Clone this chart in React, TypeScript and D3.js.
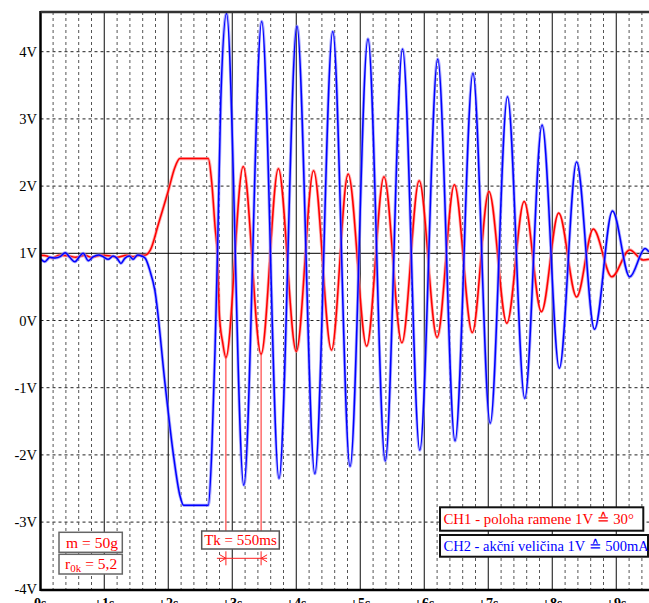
import React, { useEffect, useRef } from 'react';
import * as d3 from 'd3';

type Pt = [number, number]; // [time in s, volts]

const voltTicks = [4, 3, 2, 1, 0, -1, -2, -3, -4];
const voltLabels = ['4V', '3V', '2V', '1V', '0V', '-1V', '-2V', '-3V', '-4V'];
const secTicks = [0, 1, 2, 3, 4, 5, 6, 7, 8, 9];
const secLabels = ['0s', '+1s', '+2s', '+3s', '+4s', '+5s', '+6s', '+7s', '+8s', '+9s'];

// CH1 (red) - arm position: idle noise, step up, plateau, release
const redLead: Pt[] = [
  [0, 0.97], [0.1, 0.96], [0.18, 0.93], [0.3, 0.97], [0.45, 0.96], [0.55, 0.94],
  [0.7, 0.97], [0.8, 0.94], [0.95, 0.97], [1.1, 0.96], [1.2, 0.94], [1.35, 0.97],
  [1.45, 0.95], [1.55, 0.97], [1.63, 0.97], [1.72, 1.05], [1.85, 1.45], [2.0, 1.93],
  [2.1, 2.27], [2.18, 2.41], [2.625, 2.41], [2.68, 2.04], [2.73, 1.4],
  [2.77, 0.93], [2.8, 0.06], [2.85, -0.33]
];
const redTroughs: Pt[] = [
  [2.9, -0.55], [3.45, -0.5], [4.0, -0.46], [4.55, -0.44], [5.1, -0.38], [5.65, -0.33],
  [6.2, -0.25], [6.75, -0.18], [7.29, -0.04], [7.83, 0.13], [8.38, 0.35], [8.93, 0.65]
];
const redPeaks: Pt[] = [
  [3.17, 2.29], [3.72, 2.26], [4.27, 2.23], [4.81, 2.18], [5.37, 2.14], [5.92, 2.08],
  [6.47, 2.02], [7.01, 1.92], [7.56, 1.77], [8.1, 1.6], [8.64, 1.36], [9.21, 1.05]
];
const redTail: Pt[] = [[9.42, 0.9], [9.51, 0.91]];

// CH2 (blue) - control action
const blueLead: Pt[] = [
  [0, 0.92], [0.07, 0.875], [0.15, 0.94], [0.23, 0.93], [0.31, 0.95], [0.39, 1.01],
  [0.46, 0.94], [0.54, 0.875], [0.62, 0.96], [0.67, 1.0], [0.75, 0.89], [0.83, 0.95],
  [0.91, 0.975], [0.98, 0.95], [1.06, 0.91], [1.14, 0.96], [1.2, 0.925], [1.26, 0.85],
  [1.32, 0.925], [1.39, 0.96], [1.45, 0.91], [1.52, 0.975], [1.58, 0.96], [1.64, 0.925],
  [1.71, 0.75], [1.79, 0.45], [1.95, -0.95], [2.08, -2.0], [2.18, -2.6],
  [2.24, -2.75], [2.625, -2.75], [2.68, -1.93], [2.73, -0.44], [2.77, 1.05], [2.82, 3.28]
];
const bluePeaks: Pt[] = [
  [2.91, 4.57], [3.46, 4.45], [4.01, 4.38], [4.57, 4.3], [5.12, 4.19], [5.66, 4.04],
  [6.21, 3.89], [6.76, 3.68], [7.3, 3.33], [7.84, 2.91], [8.38, 2.36], [8.94, 1.63], [9.45, 1.07]
];
const blueTroughs: Pt[] = [
  [3.18, -2.45], [3.73, -2.35], [4.29, -2.28], [4.84, -2.17], [5.39, -2.09], [5.93, -1.93],
  [6.48, -1.79], [7.03, -1.53], [7.57, -1.16], [8.11, -0.71], [8.66, -0.13], [9.21, 0.65]
];
const blueTail: Pt[] = [[9.51, 1.02]];

// oscillation period markers (Tk = 550ms)
const tkMarks = [2.9, 3.45];

const W = 649;
const H = 603;
const FONT = "'Liberation Serif', 'Times New Roman', serif";

const App: React.FC = () => {
  const svgRef = useRef<SVGSVGElement>(null);

  useEffect(() => {
    if (!svgRef.current) return;
    const svg = d3.select(svgRef.current);
    svg.selectAll('*').remove();

    const x = d3.scaleLinear().domain([0, 9.5]).range([40.3, 648.3]);
    const y = d3.scaleLinear().domain([-4, 4]).range([589.3, 51.7]);
    const top = 12;
    const bottom = 590;
    const left = 40.5;

    svg.append('rect').attr('width', W).attr('height', H).attr('fill', '#fff');

    const grid = svg.append('g');
    // horizontal dashed grid
    grid.selectAll('.hgrid')
      .data(voltTicks.filter(v => v !== 1 && v !== -4))
      .enter().append('line')
      .attr('x1', left).attr('x2', W)
      .attr('y1', d => y(d)).attr('y2', d => y(d))
      .attr('stroke', '#222').attr('stroke-width', 1)
      .attr('stroke-dasharray', '3,3');

    // vertical dashed every 0.2 s
    const fine = d3.range(1, 48).filter(i => i % 5 !== 0).map(i => i * 0.2);
    grid.selectAll('.vgrid')
      .data(fine)
      .enter().append('line')
      .attr('x1', d => x(d)).attr('x2', d => x(d))
      .attr('y1', top).attr('y2', bottom)
      .attr('stroke', '#555').attr('stroke-width', 1)
      .attr('stroke-dasharray', '3,3');

    // solid second lines
    grid.selectAll('.sgrid')
      .data(secTicks.slice(1))
      .enter().append('line')
      .attr('x1', d => x(d)).attr('x2', d => x(d))
      .attr('y1', top).attr('y2', bottom)
      .attr('stroke', '#333').attr('stroke-width', 1.2);

    // 1V reference line
    grid.append('line')
      .attr('x1', left).attr('x2', W)
      .attr('y1', y(1)).attr('y2', y(1))
      .attr('stroke', '#000').attr('stroke-width', 1);

    svg.append('clipPath').attr('id', 'plot-clip')
      .append('rect').attr('x', 41).attr('y', top).attr('width', W - 41).attr('height', bottom - top);

    const byTime = (a: Pt, b: Pt) => a[0] - b[0];
    const redTrace = [...redLead, ...redTroughs, ...redPeaks, ...redTail].sort(byTime);
    const blueTrace = [...blueLead, ...bluePeaks, ...blueTroughs, ...blueTail].sort(byTime);

    const line = d3.line<Pt>()
      .x(d => x(d[0]))
      .y(d => y(d[1]))
      .curve(d3.curveMonotoneX);

    const traces = svg.append('g').attr('clip-path', 'url(#plot-clip)');
    const drawTrace = (data: Pt[], halo: string, core: string) => {
      traces.append('path').datum(data)
        .attr('d', line).attr('fill', 'none')
        .attr('stroke', halo).attr('stroke-width', 3.2).attr('stroke-opacity', 0.7)
        .attr('stroke-linejoin', 'round');
      traces.append('path').datum(data)
        .attr('d', line).attr('fill', 'none')
        .attr('stroke', core).attr('stroke-width', 1.5)
        .attr('stroke-linejoin', 'round');
    };
    drawTrace(redTrace, '#ff8a8a', '#ff0000');
    drawTrace(blueTrace, '#8a8aff', '#0000ff');

    // Tk marker lines from red troughs down to the label
    const tkY = tkMarks.map(t => redTroughs.find(p => Math.abs(p[0] - t) < 0.01)![1]);
    svg.selectAll('.tk')
      .data(tkMarks)
      .enter().append('line')
      .attr('x1', d => x(d)).attr('x2', d => x(d))
      .attr('y1', (d, i) => y(tkY[i])).attr('y2', 531)
      .attr('stroke', '#ff2020').attr('stroke-width', 1);

    // dimension arrow below the Tk box
    const ax0 = x(tkMarks[0]);
    const ax1 = x(tkMarks[1]);
    const ay = 558.3;
    const arrow = svg.append('g').attr('stroke', '#ff2020').attr('stroke-width', 1).attr('fill', 'none');
    arrow.append('line').attr('x1', ax0 - 9).attr('x2', ax1 + 6).attr('y1', ay).attr('y2', ay);
    [ax0, ax1].forEach(px => {
      arrow.append('line').attr('x1', px).attr('x2', px).attr('y1', ay - 7).attr('y2', ay + 7);
    });
    arrow.append('path').attr('d', `M${ax0 - 6},${ay - 3.5} L${ax0},${ay} L${ax0 - 6},${ay + 3.5}`);
    arrow.append('path').attr('d', `M${ax1 + 6},${ay - 3.5} L${ax1},${ay} L${ax1 + 6},${ay + 3.5}`);

    // frame
    svg.append('line').attr('x1', left).attr('x2', left).attr('y1', top - 1).attr('y2', bottom + 1)
      .attr('stroke', '#000').attr('stroke-width', 2.5);
    svg.append('line').attr('x1', left).attr('x2', W).attr('y1', top).attr('y2', top)
      .attr('stroke', '#333').attr('stroke-width', 2.5);
    svg.append('line').attr('x1', left).attr('x2', W).attr('y1', bottom).attr('y2', bottom)
      .attr('stroke', '#000').attr('stroke-width', 2.5);

    // axis labels
    svg.selectAll('.ylab')
      .data(voltTicks)
      .enter().append('text')
      .attr('x', 37).attr('y', d => y(d)).attr('dy', '0.35em')
      .attr('text-anchor', 'end')
      .style('font-family', FONT).style('font-size', '14.5px').attr('fill', '#000')
      .text((d, i) => voltLabels[i]);

    svg.selectAll('.xlab')
      .data(secTicks)
      .enter().append('text')
      .attr('x', d => x(d)).attr('y', 608)
      .attr('text-anchor', 'middle')
      .style('font-family', FONT).style('font-size', '14px').style('font-weight', 'bold').attr('fill', '#000')
      .text((d, i) => secLabels[i]);

    // annotation boxes
    const box = (bx: number, by: number, bw: number, bh: number, stroke: string, sw: number) =>
      svg.append('rect').attr('x', bx).attr('y', by).attr('width', bw).attr('height', bh)
        .attr('fill', '#fff').attr('stroke', stroke).attr('stroke-width', sw);

    box(59, 532.3, 63.3, 20, '#666', 1.5);
    svg.append('text').attr('x', 92).attr('y', 547.5).attr('text-anchor', 'middle')
      .style('font-family', FONT).style('font-size', '15.5px').attr('fill', '#ff0000')
      .text('m = 50g');

    box(59, 554.3, 63.3, 19.7, '#666', 1.5);
    const r0k = svg.append('text').attr('x', 65).attr('y', 569)
      .style('font-family', FONT).style('font-size', '15.5px').attr('fill', '#ff0000');
    r0k.append('tspan').text('r');
    r0k.append('tspan').attr('dy', 3).style('font-size', '11px').text('0k');
    r0k.append('tspan').attr('dy', -3).attr('dx', 4).text('=  5,2');

    box(201.7, 531, 77.6, 18, '#555', 1.5);
    svg.append('text').attr('x', 240.5).attr('y', 545).attr('text-anchor', 'middle')
      .style('font-family', FONT).style('font-size', '15px').attr('fill', '#ff0000')
      .text('Tk = 550ms');

    box(440, 507.3, 203.3, 23.4, '#111', 2);
    svg.append('text').attr('x', 443.5).attr('y', 524)
      .style('font-family', FONT).style('font-size', '14.8px').attr('fill', '#ff0000')
      .text('CH1 - poloha ramene 1V \u2259 30°');

    box(440, 535, 208, 21.7, '#111', 2);
    svg.append('text').attr('x', 443.5).attr('y', 551)
      .style('font-family', FONT).style('font-size', '14.5px').attr('fill', '#0000ff')
      .text('CH2 - akční veličina 1V \u2259 500mA');
  }, []);

  return (
    <div style={{ position: 'absolute', left: 0, top: 0 }}>
      <svg ref={svgRef} width={W} height={H} style={{ display: 'block' }} />
    </div>
  );
};

export default App;
